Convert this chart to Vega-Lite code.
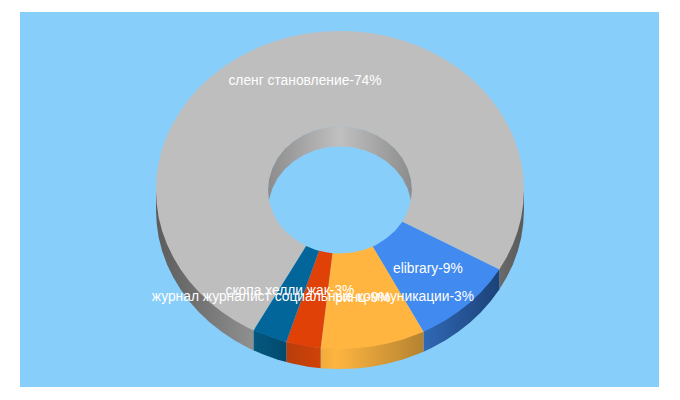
{"$schema":"https://vega.github.io/schema/vega-lite/v6.json","width":639,"height":375,"autosize":"none","padding":{"left":20,"top":12,"right":21,"bottom":13},"background":"#ffffff","view":{"fill":"#87CEFA","stroke":null},
"datasets":{
"wallGreyLeft":[{"i":0,"x":-100,"y":-12.6},{"i":1,"x":-99.6,"y":-21.3},{"i":2,"x":-98.5,"y":-30},{"i":3,"x":-96.6,"y":-38.5},{"i":4,"x":-94,"y":-46.8},{"i":5,"x":-90.6,"y":-54.9},{"i":6,"x":-86.6,"y":-62.6},{"i":7,"x":-81.9,"y":-70},{"i":8,"x":-76.6,"y":-76.9},{"i":9,"x":-70.7,"y":-83.3},{"i":10,"x":-64.3,"y":-89.2},{"i":11,"x":-57.4,"y":-94.5},{"i":12,"x":-50,"y":-99.2},{"i":13,"x":-46.9,"y":-100.9},{"i":14,"x":-46.9,"y":-88.3},{"i":15,"x":-100,"y":0}],
"wallGreyRight":[{"i":0,"x":100,"y":-12.6},{"i":1,"x":99.6,"y":-21.3},{"i":2,"x":98.5,"y":-30},{"i":3,"x":96.6,"y":-38.5},{"i":4,"x":94,"y":-46.8},{"i":5,"x":90.6,"y":-54.9},{"i":6,"x":86.6,"y":-62.6},{"i":7,"x":86.6,"y":-50},{"i":8,"x":100,"y":0}],
"wallBlue":[{"i":0,"x":45.4,"y":-101.7},{"i":1,"x":50,"y":-99.2},{"i":2,"x":57.4,"y":-94.5},{"i":3,"x":64.3,"y":-89.2},{"i":4,"x":70.7,"y":-83.3},{"i":5,"x":76.6,"y":-76.9},{"i":6,"x":81.9,"y":-70},{"i":7,"x":86.6,"y":-62.6},{"i":8,"x":86.6,"y":-50},{"i":9,"x":45.4,"y":-89.1}],
"wallYellow":[{"i":0,"x":-10.5,"y":-112.1},{"i":1,"x":-8.7,"y":-112.2},{"i":2,"x":0,"y":-112.6},{"i":3,"x":8.7,"y":-112.2},{"i":4,"x":17.4,"y":-111.1},{"i":5,"x":25.9,"y":-109.2},{"i":6,"x":34.2,"y":-106.6},{"i":7,"x":42.3,"y":-103.2},{"i":8,"x":45.4,"y":-101.7},{"i":9,"x":45.4,"y":-89.1},{"i":10,"x":-10.5,"y":-99.5}],
"wallOrange":[{"i":0,"x":-29.2,"y":-108.2},{"i":1,"x":-25.9,"y":-109.2},{"i":2,"x":-17.4,"y":-111.1},{"i":3,"x":-10.5,"y":-112.1},{"i":4,"x":-10.5,"y":-99.5},{"i":5,"x":-29.2,"y":-95.6}],
"wallDark":[{"i":0,"x":-46.9,"y":-100.9},{"i":1,"x":-42.3,"y":-103.2},{"i":2,"x":-34.2,"y":-106.6},{"i":3,"x":-29.2,"y":-108.2},{"i":4,"x":-29.2,"y":-95.6},{"i":5,"x":-46.9,"y":-88.3}],
"faceGrey":[{"i":0,"x":86.6,"y":-50},{"i":1,"x":90.6,"y":-42.3},{"i":2,"x":94,"y":-34.2},{"i":3,"x":96.6,"y":-25.9},{"i":4,"x":98.5,"y":-17.4},{"i":5,"x":99.6,"y":-8.7},{"i":6,"x":100,"y":0},{"i":7,"x":99.6,"y":8.7},{"i":8,"x":98.5,"y":17.4},{"i":9,"x":96.6,"y":25.9},{"i":10,"x":94,"y":34.2},{"i":11,"x":90.6,"y":42.3},{"i":12,"x":86.6,"y":50},{"i":13,"x":81.9,"y":57.4},{"i":14,"x":76.6,"y":64.3},{"i":15,"x":70.7,"y":70.7},{"i":16,"x":64.3,"y":76.6},{"i":17,"x":57.4,"y":81.9},{"i":18,"x":50,"y":86.6},{"i":19,"x":42.3,"y":90.6},{"i":20,"x":34.2,"y":94},{"i":21,"x":25.9,"y":96.6},{"i":22,"x":17.4,"y":98.5},{"i":23,"x":8.7,"y":99.6},{"i":24,"x":0,"y":100},{"i":25,"x":-8.7,"y":99.6},{"i":26,"x":-17.4,"y":98.5},{"i":27,"x":-25.9,"y":96.6},{"i":28,"x":-34.2,"y":94},{"i":29,"x":-42.3,"y":90.6},{"i":30,"x":-50,"y":86.6},{"i":31,"x":-57.4,"y":81.9},{"i":32,"x":-64.3,"y":76.6},{"i":33,"x":-70.7,"y":70.7},{"i":34,"x":-76.6,"y":64.3},{"i":35,"x":-81.9,"y":57.4},{"i":36,"x":-86.6,"y":50},{"i":37,"x":-90.6,"y":42.3},{"i":38,"x":-94,"y":34.2},{"i":39,"x":-96.6,"y":25.9},{"i":40,"x":-98.5,"y":17.4},{"i":41,"x":-99.6,"y":8.7},{"i":42,"x":-100,"y":0},{"i":43,"x":-99.6,"y":-8.7},{"i":44,"x":-98.5,"y":-17.4},{"i":45,"x":-96.6,"y":-25.9},{"i":46,"x":-94,"y":-34.2},{"i":47,"x":-90.6,"y":-42.3},{"i":48,"x":-86.6,"y":-50},{"i":49,"x":-81.9,"y":-57.4},{"i":50,"x":-76.6,"y":-64.3},{"i":51,"x":-70.7,"y":-70.7},{"i":52,"x":-64.3,"y":-76.6},{"i":53,"x":-57.4,"y":-81.9},{"i":54,"x":-50,"y":-86.6},{"i":55,"x":-46.9,"y":-88.3},{"i":56,"x":-18.4,"y":-35.3},{"i":57,"x":-19.6,"y":-34.6},{"i":58,"x":-25.1,"y":-30.6},{"i":59,"x":-30,"y":-25.7},{"i":60,"x":-33.9,"y":-20},{"i":61,"x":-36.7,"y":-13.7},{"i":62,"x":-38.5,"y":-6.9},{"i":63,"x":-39.1,"y":0},{"i":64,"x":-38.5,"y":6.9},{"i":65,"x":-36.7,"y":13.7},{"i":66,"x":-33.9,"y":20},{"i":67,"x":-30,"y":25.7},{"i":68,"x":-25.1,"y":30.6},{"i":69,"x":-19.6,"y":34.6},{"i":70,"x":-13.4,"y":37.6},{"i":71,"x":-6.8,"y":39.4},{"i":72,"x":0,"y":40},{"i":73,"x":6.8,"y":39.4},{"i":74,"x":13.4,"y":37.6},{"i":75,"x":19.6,"y":34.6},{"i":76,"x":25.1,"y":30.6},{"i":77,"x":30,"y":25.7},{"i":78,"x":33.9,"y":20},{"i":79,"x":36.7,"y":13.7},{"i":80,"x":38.5,"y":6.9},{"i":81,"x":39.1,"y":0},{"i":82,"x":38.5,"y":-6.9},{"i":83,"x":36.7,"y":-13.7},{"i":84,"x":33.9,"y":-20}],
"faceBlue":[{"i":0,"x":45.4,"y":-89.1},{"i":1,"x":50,"y":-86.6},{"i":2,"x":57.4,"y":-81.9},{"i":3,"x":64.3,"y":-76.6},{"i":4,"x":70.7,"y":-70.7},{"i":5,"x":76.6,"y":-64.3},{"i":6,"x":81.9,"y":-57.4},{"i":7,"x":86.6,"y":-50},{"i":8,"x":33.9,"y":-20},{"i":9,"x":30,"y":-25.7},{"i":10,"x":25.1,"y":-30.6},{"i":11,"x":19.6,"y":-34.6},{"i":12,"x":17.8,"y":-35.6}],
"faceYellow":[{"i":0,"x":-10.5,"y":-99.5},{"i":1,"x":-8.7,"y":-99.6},{"i":2,"x":0,"y":-100},{"i":3,"x":8.7,"y":-99.6},{"i":4,"x":17.4,"y":-98.5},{"i":5,"x":25.9,"y":-96.6},{"i":6,"x":34.2,"y":-94},{"i":7,"x":42.3,"y":-90.6},{"i":8,"x":45.4,"y":-89.1},{"i":9,"x":17.8,"y":-35.6},{"i":10,"x":13.4,"y":-37.6},{"i":11,"x":6.8,"y":-39.4},{"i":12,"x":0,"y":-40},{"i":13,"x":-4.1,"y":-39.8}],
"faceOrange":[{"i":0,"x":-29.2,"y":-95.6},{"i":1,"x":-25.9,"y":-96.6},{"i":2,"x":-17.4,"y":-98.5},{"i":3,"x":-10.5,"y":-99.5},{"i":4,"x":-4.1,"y":-39.8},{"i":5,"x":-6.8,"y":-39.4},{"i":6,"x":-11.4,"y":-38.3}],
"faceDark":[{"i":0,"x":-46.9,"y":-88.3},{"i":1,"x":-42.3,"y":-90.6},{"i":2,"x":-34.2,"y":-94},{"i":3,"x":-29.2,"y":-95.6},{"i":4,"x":-11.4,"y":-38.3},{"i":5,"x":-13.4,"y":-37.6},{"i":6,"x":-18.4,"y":-35.3}],
"holeWall":[{"i":0,"x":38.6,"y":-6.3},{"i":1,"x":39.1,"y":0},{"i":2,"x":38.5,"y":6.9},{"i":3,"x":36.7,"y":13.7},{"i":4,"x":33.9,"y":20},{"i":5,"x":30,"y":25.7},{"i":6,"x":25.1,"y":30.6},{"i":7,"x":19.6,"y":34.6},{"i":8,"x":13.4,"y":37.6},{"i":9,"x":6.8,"y":39.4},{"i":10,"x":0,"y":40},{"i":11,"x":-6.8,"y":39.4},{"i":12,"x":-13.4,"y":37.6},{"i":13,"x":-19.6,"y":34.6},{"i":14,"x":-25.1,"y":30.6},{"i":15,"x":-30,"y":25.7},{"i":16,"x":-33.9,"y":20},{"i":17,"x":-36.7,"y":13.7},{"i":18,"x":-38.5,"y":6.9},{"i":19,"x":-39.1,"y":0},{"i":20,"x":-38.6,"y":-6.3},{"i":21,"x":-36.7,"y":1.1},{"i":22,"x":-33.9,"y":7.4},{"i":23,"x":-30,"y":13.1},{"i":24,"x":-25.1,"y":18},{"i":25,"x":-19.6,"y":22},{"i":26,"x":-13.4,"y":25},{"i":27,"x":-6.8,"y":26.8},{"i":28,"x":0,"y":27.4},{"i":29,"x":6.8,"y":26.8},{"i":30,"x":13.4,"y":25},{"i":31,"x":19.6,"y":22},{"i":32,"x":25.1,"y":18},{"i":33,"x":30,"y":13.1},{"i":34,"x":33.9,"y":7.4},{"i":35,"x":36.7,"y":1.1}],
"labels":[{"label":"сленг становление-74%","x":-19,"y":68.6},{"label":"elibrary-9%","x":47.8,"y":-49.7},{"label":"скопа хелли жак-3%","x":-27.2,"y":-63.5},{"label":"журнал журналист социальные коммуникации-3%","x":-14.7,"y":-67.3},{"label":"ринц-9%","x":12.5,"y":-67.9}]
},
"encoding":{"x":{"field":"x","type":"quantitative","axis":null,"scale":{"domain":[-173.9,173.4],"nice":false,"zero":false}},"y":{"field":"y","type":"quantitative","axis":null,"scale":{"domain":[-123.9,111.9],"nice":false,"zero":false}}},
"layer":[
{"data":{"name":"wallGreyLeft"},"mark":{"type":"line","filled":true,"strokeWidth":0,"fill":{"gradient":"linear","x1":0,"y1":0,"x2":1,"y2":0,"stops":[{"offset":0,"color":"#5c5c5c"},{"offset":1,"color":"#909090"}]}},"encoding":{"order":{"field":"i"}}},
{"data":{"name":"wallGreyRight"},"mark":{"type":"line","filled":true,"strokeWidth":0,"fill":{"gradient":"linear","x1":0,"y1":0,"x2":1,"y2":0,"stops":[{"offset":0,"color":"#6a6a6a"},{"offset":1,"color":"#5a5a5a"}]}},"encoding":{"order":{"field":"i"}}},
{"data":{"name":"wallBlue"},"mark":{"type":"line","filled":true,"strokeWidth":0,"fill":{"gradient":"linear","x1":0,"y1":0,"x2":1,"y2":0,"stops":[{"offset":0,"color":"#3068b5"},{"offset":1,"color":"#1c4278"}]}},"encoding":{"order":{"field":"i"}}},
{"data":{"name":"wallYellow"},"mark":{"type":"line","filled":true,"strokeWidth":0,"fill":{"gradient":"linear","x1":0,"y1":0,"x2":1,"y2":0,"stops":[{"offset":0,"color":"#f0ab3c"},{"offset":0.15,"color":"#feb540"},{"offset":1,"color":"#b58230"}]}},"encoding":{"order":{"field":"i"}}},
{"data":{"name":"wallOrange"},"mark":{"type":"line","filled":true,"strokeWidth":0,"fill":{"gradient":"linear","x1":0,"y1":0,"x2":1,"y2":0,"stops":[{"offset":0,"color":"#b83e0b"},{"offset":1,"color":"#d04208"}]}},"encoding":{"order":{"field":"i"}}},
{"data":{"name":"wallDark"},"mark":{"type":"line","filled":true,"strokeWidth":0,"fill":{"gradient":"linear","x1":0,"y1":0,"x2":1,"y2":0,"stops":[{"offset":0,"color":"#05587f"},{"offset":1,"color":"#024a6e"}]}},"encoding":{"order":{"field":"i"}}},
{"data":{"name":"faceGrey"},"mark":{"type":"line","filled":true,"strokeWidth":0,"fill":"#BEBEBE"},"encoding":{"order":{"field":"i"}}},
{"data":{"name":"faceBlue"},"mark":{"type":"line","filled":true,"strokeWidth":0,"fill":"#418AF0"},"encoding":{"order":{"field":"i"}}},
{"data":{"name":"faceYellow"},"mark":{"type":"line","filled":true,"strokeWidth":0,"fill":"#FFB540"},"encoding":{"order":{"field":"i"}}},
{"data":{"name":"faceOrange"},"mark":{"type":"line","filled":true,"strokeWidth":0,"fill":"#E04107"},"encoding":{"order":{"field":"i"}}},
{"data":{"name":"faceDark"},"mark":{"type":"line","filled":true,"strokeWidth":0,"fill":"#03669A"},"encoding":{"order":{"field":"i"}}},
{"data":{"name":"holeWall"},"mark":{"type":"line","filled":true,"strokeWidth":0,"fill":{"gradient":"linear","x1":0,"y1":0,"x2":1,"y2":0,"stops":[{"offset":0,"color":"#8c8c8c"},{"offset":0.5,"color":"#c0c0c0"},{"offset":1,"color":"#8c8c8c"}]}},"encoding":{"order":{"field":"i"}}},
{"data":{"name":"labels"},"mark":{"type":"text","font":"Liberation Sans","fontSize":13.8,"fill":"#ffffff","align":"center","baseline":"middle"},"encoding":{"text":{"field":"label","type":"nominal"}}}
]}
